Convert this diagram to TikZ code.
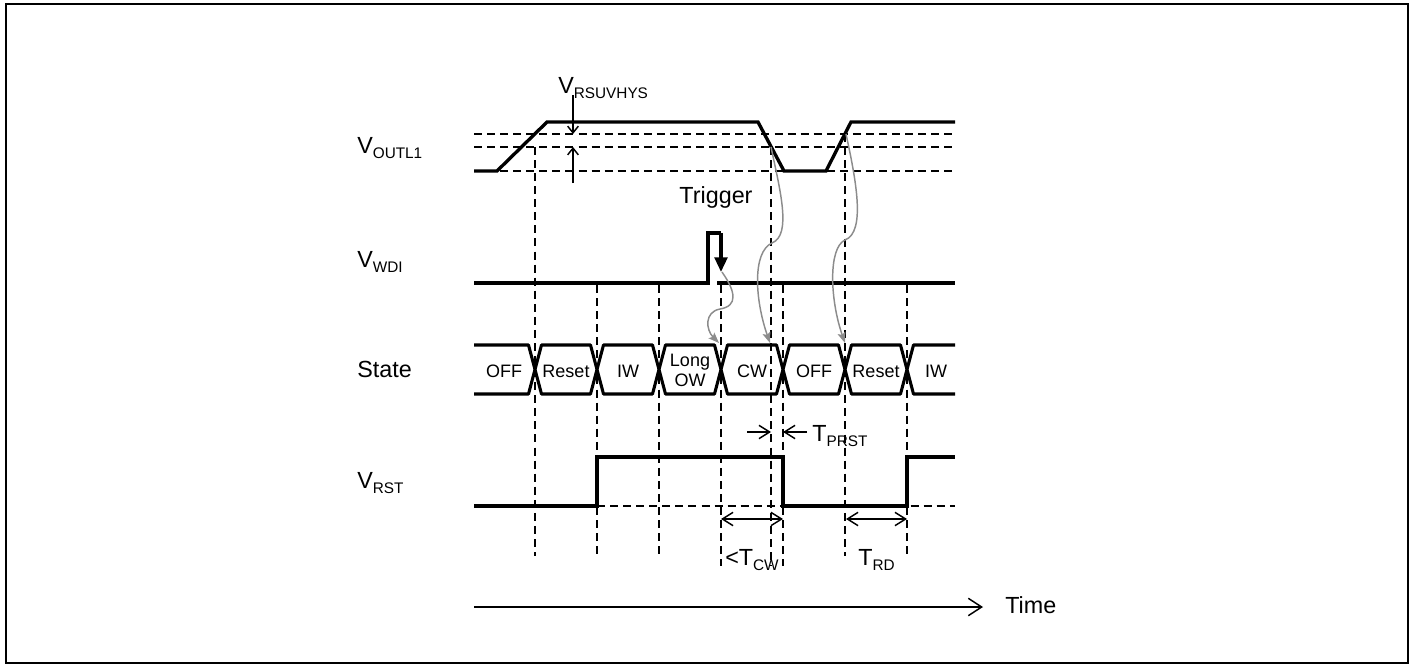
\documentclass[tikz,border=0pt]{standalone}
\usepackage{fontspec}
\setmainfont{Liberation Sans}
\usetikzlibrary{arrows.meta}
\newcommand{\lsub}[1]{\raisebox{-3.8pt}{\fontsize{11.5pt}{12pt}\selectfont #1}}
\begin{document}
\begin{tikzpicture}[x=0.75pt,y=-0.75pt,
  wave/.style={line width=2.5pt},
  strow/.style={line width=2.3pt,line join=round},
  thr/.style={line width=1.5pt,dash pattern=on 6pt off 3.8pt},
  vdash/.style={line width=1.2pt,dash pattern=on 6pt off 3.8pt},
  lbl/.style={font=\fontsize{17.5pt}{19pt}\selectfont,inner sep=0pt},
  st/.style={font=\fontsize{13.5pt}{15pt}\selectfont,inner sep=0pt,align=center},
  dimr/.style={line width=1.1pt,-{Straight Barb[length=8pt,width=10pt]}},
  dimlr/.style={line width=1.1pt,{Straight Barb[length=8pt,width=10pt]}-{Straight Barb[length=8pt,width=10pt]}},
  hysr/.style={line width=1.1pt,-{Straight Barb[length=5pt,width=8pt]}},
  gc/.style={draw=black!45,line width=1.1pt,-{Stealth[length=8pt,width=6pt,inset=1.5pt]}},
]
\useasboundingbox (0,0) rectangle (1414,671);
\draw[line width=1.5pt] (6,4) rectangle (1408,663);

% threshold lines
\draw[thr] (474,134) -- (955,134);
\draw[thr] (474,147) -- (955,147);
\draw[thr] (474,171) -- (955,171);
\draw[thr] (597,506) -- (955,506);

% vertical timing lines
\draw[vdash] (535,147) -- (535,556);
\draw[vdash] (597,285) -- (597,556);
\draw[vdash] (659,285) -- (659,556);
\draw[vdash] (721,285) -- (721,566);
\draw[vdash] (771,147) -- (771,566);
\draw[vdash] (783,285) -- (783,566);
\draw[vdash] (845,134) -- (845,556);
\draw[vdash] (907,285) -- (907,556);

% V_OUTL1
\draw[wave] (474,171) -- (497,171) -- (547,122) -- (758,122) -- (784,171) -- (826,171) -- (851,122) -- (955,122);

% V_WDI
\draw[wave] (474,283) -- (708,283) -- (708,233) -- (721,233);
\draw[wave,-{Triangle[length=11pt,width=9.5pt]}] (721,233) -- (721,272);
\draw[wave] (717,283) -- (955,283);

% State row
\draw[strow] (474,345) -- (528.5,345) -- (535,369.5) -- (528.5,394) -- (474,394);
\foreach \a/\b in {535/597,597/659,659/721,721/783,783/845,845/907}
  \draw[strow] ({\a+6.5},345) -- ({\b-6.5},345) -- (\b,369.5) -- ({\b-6.5},394) -- ({\a+6.5},394) -- (\a,369.5) -- cycle;
\draw[strow] (955,345) -- (913.5,345) -- (907,369.5) -- (913.5,394) -- (955,394);

% V_RST
\draw[wave] (474,506) -- (597,506) -- (597,457) -- (783,457) -- (783,506) -- (907,506) -- (907,457) -- (955,457);

% labels
\node[lbl,anchor=base west] (lout) at (357,153) {V\lsub{OUTL1}};
\node[lbl,anchor=base west] (lwdi) at (357,267) {V\lsub{WDI}};
\node[lbl,anchor=base west] (lst) at (357,377) {State};
\node[lbl,anchor=base west] (lrst) at (357,488) {V\lsub{RST}};
\node[lbl,anchor=base west] (lhys) at (558,93) {V\lsub{RSUVHYS}};
\node[lbl,anchor=base] (ltrig) at (716,203) {Trigger};
\node[lbl,anchor=base west] (ltime) at (1005,613) {Time};
\node[lbl,anchor=base west] (lprst) at (812,441) {T\lsub{PRST}};
\node[lbl,anchor=base west] (lcw) at (725,565) {<T\lsub{CW}};
\node[lbl,anchor=base west] (lrd) at (858,565) {T\lsub{RD}};

% state labels
\node[st,anchor=base] (s1) at (504,377) {OFF};
\node[st,anchor=base] (s2) at (566,377) {Reset};
\node[st,anchor=base] (s3) at (628,377) {IW};
\node[st] (s4) at (690,370) {Long\\OW};
\node[st,anchor=base] (s5) at (752,377) {CW};
\node[st,anchor=base] (s6) at (814,377) {OFF};
\node[st,anchor=base] (s7) at (876,377) {Reset};
\node[st,anchor=base] (s8) at (936,377) {IW};

% hysteresis arrows
\coordinate (h1) at (573,95);
\coordinate (h2) at (573,134);
\coordinate (h3) at (573,183);
\coordinate (h4) at (573,147);
\draw[hysr] (h1) -- (h2);
\draw[hysr] (h3) -- (h4);

% T_PRST arrows
\coordinate (p1) at (747,432);
\coordinate (p2) at (771,432);
\coordinate (p3) at (807,432);
\coordinate (p4) at (783,432);
\draw[dimr] (p1) -- (p2);
\draw[dimr] (p3) -- (p4);

% duration arrows
\coordinate (c1) at (721,519);
\coordinate (c2) at (783,519);
\coordinate (r1) at (846,519);
\coordinate (r2) at (907,519);
\draw[dimlr] (c1) -- (c2);
\draw[dimlr] (r1) -- (r2);

% time axis
\coordinate (t0) at (474,607);
\coordinate (t1) at (983,607);
\draw[line width=1.1pt,-{Straight Barb[length=10pt,width=13pt]}] (t0) -- (t1);

% gray causal curves
\coordinate (g1s) at (722,272);
\coordinate (g1e) at (719,343);
\draw[gc] (g1s) .. controls (736,292) and (738,306) .. (720,309) .. controls (704,312) and (706,330) .. (g1e);
\coordinate (g2s) at (771,147);
\coordinate (g2e) at (770,343);
\draw[gc] (g2s) .. controls (780,190) and (792,235) .. (772,243) .. controls (752,252) and (755,300) .. (g2e);
\coordinate (g3s) at (846,134);
\coordinate (g3e) at (845,343);
\draw[gc] (g3s) .. controls (856,180) and (866,232) .. (845,240) .. controls (828,248) and (830,300) .. (g3e);
\end{tikzpicture}
\end{document}
